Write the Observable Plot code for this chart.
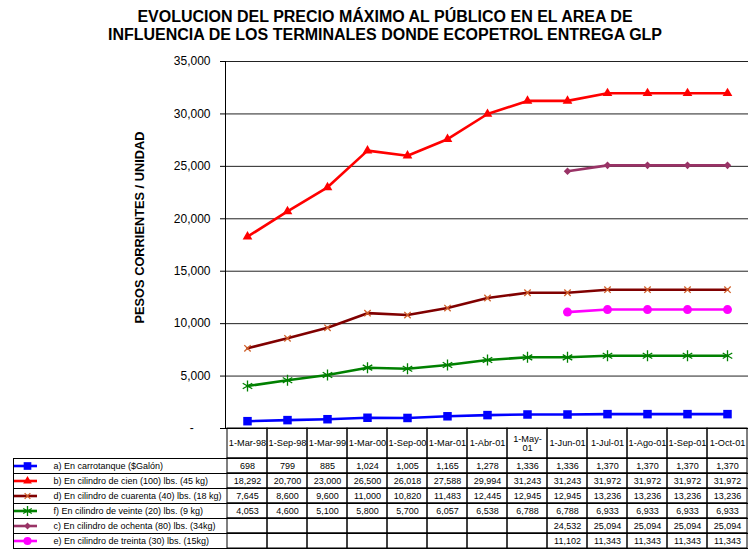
<!DOCTYPE html>
<html><head><meta charset="utf-8">
<script src="https://cdn.jsdelivr.net/npm/d3@7"></script>
<script src="https://cdn.jsdelivr.net/npm/@observablehq/plot@0.6"></script>
<style>
body{margin:0;background:#fff}
#wrap{position:relative;width:748px;height:549px;background:#fff;overflow:hidden}
#title{position:absolute;left:0;top:8px;width:770px;text-align:center;font:bold 16px/18px "Liberation Sans",Arial,Helvetica,sans-serif;color:#000}
#chart{position:absolute;left:0;top:50px;width:748px}
#table{position:absolute;left:0;top:428px;width:748px}
</style></head><body>
<div id="wrap">
<div id="title">EVOLUCION DEL PRECIO MÁXIMO AL PÚBLICO EN EL AREA DE<br>INFLUENCIA DE LOS TERMINALES DONDE ECOPETROL ENTREGA GLP</div>
<div id="chart"></div>
<div id="table"></div>
</div>
<script>
const FONT = '"Liberation Sans", Arial, Helvetica, sans-serif';

// ---- data ----
const dates = ["1-Mar-98","1-Sep-98","1-Mar-99","1-Mar-00","1-Sep-00","1-Mar-01","1-Abr-01","1-May-01","1-Jun-01","1-Jul-01","1-Ago-01","1-Sep-01","1-Oct-01"];
const carrotanque = [698,799,885,1024,1005,1165,1278,1336,1336,1370,1370,1370,1370];
const cien = [18292,20700,23000,26500,26018,27588,29994,31243,31243,31972,31972,31972,31972];
const cuarenta = [7645,8600,9600,11000,10820,11483,12445,12945,12945,13236,13236,13236,13236];
const veinte = [4053,4600,5100,5800,5700,6057,6538,6788,6788,6933,6933,6933,6933];
const ochenta = [null,null,null,null,null,null,null,null,24532,25094,25094,25094,25094];
const treinta = [null,null,null,null,null,null,null,null,11102,11343,11343,11343,11343];
const seriesLabels = [
  "a) En carrotanque ($Galón)",
  "b) En cilindro de cien (100) lbs. (45 kg)",
  "d) En cilindro de cuarenta (40) lbs. (18 kg)",
  "f) En cilindro de veinte (20) lbs. (9 kg)",
  "c) En cilindro de ochenta (80) lbs. (34kg)",
  "e) En cilindro de treinta (30) lbs. (15kg)"
];
const seriesValues = [carrotanque, cien, cuarenta, veinte, ochenta, treinta];
const yTicks = [0,5000,10000,15000,20000,25000,30000,35000];
const yLabel = "PESOS CORRIENTES / UNIDAD";

// ---- styles ----
const styles = [
  {color:"#0000FF", marker:"#0000FF", symbol:"square",   r:4.8, filled:true},
  {color:"#FF0000", marker:"#FF0000", symbol:"triangle", r:3.6, filled:true},
  {color:"#800000", marker:"#D0602A", symbol:"times",    r:3.0, filled:false},
  {color:"#008000", marker:"#008000", symbol:"asterisk", r:5.2, filled:false},
  {color:"#993366", marker:"#993366", symbol:"diamond2", r:3.4, filled:true},
  {color:"#FF00FF", marker:"#FF00FF", symbol:"circle",   r:4.5, filled:true}
];

const fmt = d3.format(",");
const nb = "\u00a0";
const fmtTick = v => v === 0 ? "-" + nb.repeat(5) : fmt(v);

function svgLine(x, y1, y2) {
  return d3.create("svg:line")
    .attr("x1", x).attr("x2", x).attr("y1", y1).attr("y2", y2)
    .attr("stroke", "#000").attr("stroke-width", 1).node();
}
function markOpts(s) {
  return s.filled ? {fill: s.marker, stroke: "none"} : {stroke: s.marker, fill: "none", strokeWidth: 1.3};
}

// ---- chart ----
const lineMarks = seriesValues.flatMap((vals, k) => {
  const s = styles[k];
  const pts = dates.map((d, i) => ({date: d, value: vals[i]})).filter(p => p.value != null);
  return [
    Plot.line(pts, {x: "date", y: "value", stroke: s.color, strokeWidth: 2.6}),
    Plot.dot(pts, {x: "date", y: "value", symbol: s.symbol, r: s.r, ...markOpts(s)})
  ];
});

const chart = Plot.plot({
  width: 748, height: 386,
  marginTop: 11, marginBottom: 8, marginLeft: 225, marginRight: 0,
  style: {fontFamily: FONT, fontSize: "12px", background: "transparent", overflow: "visible", color: "#000"},
  x: {type: "point", domain: dates, padding: 0.5, axis: null},
  y: {domain: [0, 35000]},
  marks: [
    Plot.ruleY(yTicks.filter(v => v > 0), {stroke: "#222", strokeWidth: 1}),
    Plot.ruleY([0], {stroke: "#000"}),
    (index, scales, values, dims) => svgLine(dims.marginLeft + 0.5, dims.marginTop, dims.height - dims.marginBottom),
    Plot.axisY(yTicks, {tickSize: 5, tickPadding: 10, tickFormat: fmtTick, label: null}),
    Plot.text([yLabel], {frameAnchor: "left", textAnchor: "middle", dx: -85.5, dy: -17.5, rotate: -90, fontSize: 12.8, fontWeight: "bold", text: d => d}),
    ...lineMarks
  ]
});
document.getElementById("chart").append(chart);

// ---- table ----
const cells = seriesValues.flatMap((vals, k) => dates.map((d, i) => ({date: d, row: 2 + k, value: vals[i]})));
const legendMarks = seriesLabels.flatMap((lab, k) => {
  const s = styles[k];
  const yc = k + 2.5;
  return [
    Plot.ruleY([yc], {stroke: s.color, strokeWidth: 2.6, insetLeft: -211, insetRight: 711}),
    Plot.dot([yc], {y: d => d, frameAnchor: "left", dx: -198, symbol: s.symbol, r: s.r * 0.9, ...markOpts(s)})
  ];
});

const table = Plot.plot({
  width: 748, height: 121,
  marginTop: 0, marginBottom: 1, marginLeft: 225, marginRight: 0,
  style: {fontFamily: FONT, fontSize: "9px", background: "transparent", overflow: "visible", color: "#000"},
  x: {type: "band", domain: dates, padding: 0, axis: null},
  y: {domain: [0, 8], range: [0, 120], axis: null},
  marks: [
    Plot.barY(dates, {x: d => d, y1: 0, y2: 2, fill: "none", stroke: "#000"}),
    Plot.barY(cells, {x: "date", y1: "row", y2: d => d.row + 1, fill: "none", stroke: "#000"}),
    Plot.ruleY(d3.range(2, 9), {y: d => d, insetLeft: -212, stroke: "#000"}),
    (index, scales, values, dims) => svgLine(dims.marginLeft - 212 + 0.5, scales.y(2), scales.y(8)),
    Plot.text(dates, {x: d => d, y: 1, text: d => d.replace("-May-", "-May-\n"), fontSize: 9.2}),
    Plot.text(cells.filter(c => c.value != null), {x: "date", y: d => d.row + 0.5, text: d => fmt(d.value), fontSize: 9}),
    Plot.text(seriesLabels, {y: (d, i) => i + 2.5, text: d => d, frameAnchor: "left", dx: -172, textAnchor: "start", fontSize: 9}),
    ...legendMarks
  ]
});
document.getElementById("table").append(table);
</script>
</body></html>
